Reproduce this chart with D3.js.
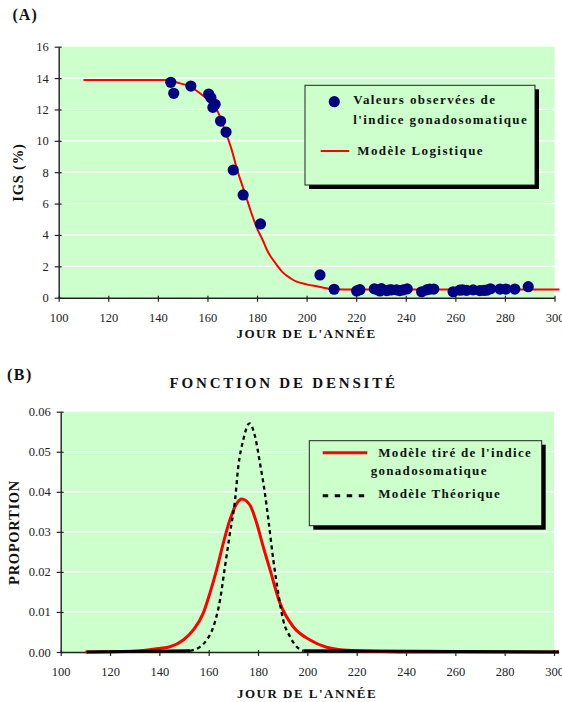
<!DOCTYPE html>
<html>
<head>
<meta charset="utf-8">
<script src="https://cdn.jsdelivr.net/npm/d3@7"></script>
<style>
  html, body { margin: 0; padding: 0; background: #ffffff; }
  svg { display: block; }
  text { font-family: "Liberation Serif", "Times New Roman", serif; }
</style>
</head>
<body>
<svg id="chart" width="562" height="702"></svg>
<script>
// ---- Panel A : gonadosomatic index (IGS) by day of year ----
const obsDays = [145.2, 146.4, 153.3, 160.5, 161.4, 162.2, 163.1, 165.3, 167.5, 170.4, 174.4, 181.4,
  205.4, 211.1, 220.2, 221.5, 227.3, 228.6, 229.6, 230.2, 232.3, 233.5, 234.3, 236.3, 237.6, 239.0, 240.6,
  246.4, 248.4, 249.7, 251.3, 259.1, 261.8, 262.9, 264.5, 267.2, 269.9, 271.5, 272.6, 274.2, 278.0, 280.4,
  284.0, 289.4];
const obsIGS = [13.73, 13.03, 13.49, 12.98, 12.75, 12.13, 12.33, 11.26, 10.56, 8.14, 6.55, 4.70,
  1.45, 0.54, 0.43, 0.51, 0.56, 0.52, 0.43, 0.58, 0.45, 0.50, 0.50, 0.50, 0.45, 0.50, 0.56,
  0.38, 0.50, 0.55, 0.55, 0.38, 0.48, 0.50, 0.47, 0.50, 0.45, 0.47, 0.48, 0.57, 0.55, 0.55,
  0.55, 0.70];

const logiDays = [110, 142, 146, 149, 151, 153, 157, 160, 163, 164.5, 166.5, 168.5, 170, 172, 174, 176,
  178, 180, 182.5, 184, 186, 188, 190.5, 193.5, 196, 200, 205, 209, 215, 302];
const logiIGS = [13.87, 13.87, 13.8, 13.66, 13.58, 13.45, 13.03, 12.64, 12.17, 11.75, 10.9, 10.05, 9.31,
  8.14, 7.18, 6.23, 5.27, 4.42, 3.6, 3.04, 2.51, 2.08, 1.6, 1.24, 1.02, 0.85, 0.70, 0.57, 0.53, 0.53];

// ---- Panel B : density functions ----
const densDays = [110, 125, 132, 140, 144.3, 149.7, 153.8, 157.8, 160.5, 163.2, 165.9, 168.6, 171.4,
  173.4, 176.7, 179.5, 182.1, 184.9, 188.9, 194.3, 201.1, 207.8, 214.6, 225.4, 240, 302];
const densIGS = [0, 0.0001, 0.0003, 0.0009, 0.0013, 0.003, 0.0055, 0.0097, 0.0147, 0.0205, 0.0271, 0.033,
  0.0371, 0.0382, 0.0367, 0.0321, 0.0263, 0.0205, 0.0122, 0.0063, 0.003, 0.0012, 0.0005, 0.0002, 0, 0];

const theoDays = [110.5, 152.4, 156.5, 159.2, 161.9, 164.6, 166.6, 168.6, 170.7, 172, 174, 176.5, 178.8,
  180.8, 182.8, 184.2, 186.2, 188.2, 190.2, 193, 195.7, 198.4, 302];
const theoVals = [0, 0.0003, 0.0013, 0.003, 0.0063, 0.013, 0.0213, 0.0296, 0.038, 0.0463, 0.0529, 0.0571,
  0.0538, 0.0471, 0.0396, 0.033, 0.023, 0.0147, 0.008, 0.0038, 0.0013, 0.0003, 0];

// ---- ticks ----
const xTicks = [100, 120, 140, 160, 180, 200, 220, 240, 260, 280, 300];
const yTicksA = [0, 2, 4, 6, 8, 10, 12, 14, 16];
const yTicksB = [0, 0.01, 0.02, 0.03, 0.04, 0.05, 0.06];

const BG = "#ccffcc";
const NAVY = "#000080";
const RED = "#ff0000";

const svg = d3.select("#chart");

function panelFrame(g, x, y, yTicks, yMinorStep, yFmt, xMinorStep) {
  const [x0, x1] = x.range();
  const [y0, y1] = y.range();
  g.append("rect").attr("x", x0).attr("y", y1).attr("width", x1 - x0).attr("height", y0 - y1).attr("fill", BG);
  // white horizontal gridlines
  g.append("g").selectAll("line")
    .data(yTicks.filter(t => t > y.domain()[0] && t < y.domain()[1]))
    .join("line")
    .attr("x1", x0).attr("x2", x1)
    .attr("y1", d => y(d)).attr("y2", d => y(d))
    .attr("stroke", "#ffffff").attr("stroke-width", 1.2);

  // x axis: minor ticks inside, major ticks crossing
  const xMinor = d3.range(x.domain()[0], x.domain()[1] + 0.001, xMinorStep);
  const gx = g.append("g").attr("transform", `translate(0,${y0})`);
  gx.call(d3.axisBottom(x).tickValues(xMinor).tickSize(-3).tickFormat(""));
  gx.call(d3.axisBottom(x).tickValues(xTicks).tickSizeInner(4).tickSizeOuter(0).tickPadding(11).tickFormat(d3.format("d")));
  gx.selectAll(".tick line").filter(function () { return +d3.select(this).attr("y2") > 0; }).attr("y1", -2);
  gx.selectAll("path.domain").attr("stroke", "#222").attr("stroke-width", 1.4);
  gx.selectAll(".tick line").attr("stroke", "#222").attr("stroke-width", 1.2);
  gx.selectAll("text").attr("font-size", 12.5).attr("fill", "#222").attr("font-family", "Liberation Serif, serif");

  // y axis
  const yMinor = d3.range(y.domain()[0], y.domain()[1] + yMinorStep / 2, yMinorStep);
  const gy = g.append("g").attr("transform", `translate(${x0},0)`);
  gy.call(d3.axisLeft(y).tickValues(yMinor).tickSize(-3).tickFormat(""));
  gy.call(d3.axisLeft(y).tickValues(yTicks).tickSizeInner(4).tickSizeOuter(0).tickPadding(6).tickFormat(yFmt));
  gy.selectAll(".tick line").filter(function () { return +d3.select(this).attr("x2") < 0; }).attr("x1", 3);
  gy.selectAll("path.domain").attr("stroke", "#222").attr("stroke-width", 1.4);
  gy.selectAll(".tick line").attr("stroke", "#222").attr("stroke-width", 1.2);
  gy.selectAll("text").attr("font-size", 12.5).attr("fill", "#222").attr("font-family", "Liberation Serif, serif");
}

function boldText(g, str, x, y, size, spacing, anchor, rotate) {
  const t = g.append("text")
    .attr("x", x).attr("y", y)
    .attr("font-size", size).attr("font-weight", "bold")
    .attr("letter-spacing", spacing)
    .attr("text-anchor", anchor || "start")
    .attr("fill", "#111")
    .text(str);
  if (rotate) t.attr("transform", `rotate(-90,${x},${y})`);
  return t;
}

// ================= Panel A =================
const gA = svg.append("g");
const xA = d3.scaleLinear().domain([100, 300]).range([58.7, 554.5]);
const yA = d3.scaleLinear().domain([0, 16]).range([297.7, 46.7]);
panelFrame(gA, xA, yA, yTicksA, 1, d3.format("d"), 4);

const logiLine = d3.line().x((d, i) => xA(logiDays[i])).y(d => yA(d)).curve(d3.curveMonotoneX);
gA.append("path").attr("d", logiLine(logiIGS)).attr("fill", "none").attr("stroke", RED).attr("stroke-width", 2);

gA.append("g").selectAll("circle").data(obsIGS).join("circle")
  .attr("cx", (d, i) => xA(obsDays[i])).attr("cy", d => yA(d)).attr("r", 5.6).attr("fill", NAVY);

boldText(gA, "(A)", 12.5, 20, 16, 1);
boldText(gA, "IGS (%)", 23, 172.5, 14.5, 0.8, "middle", true);
boldText(gA, "JOUR DE L'ANNÉE", 306.5, 338, 13, 1.5, "middle");

// legend A
const legA = gA.append("g");
legA.append("rect").attr("x", 309).attr("y", 89.3).attr("width", 230).attr("height", 99.7).attr("fill", "#000");
legA.append("rect").attr("x", 305).attr("y", 85.3).attr("width", 230).attr("height", 99.7)
  .attr("fill", BG).attr("stroke", "#222").attr("stroke-width", 1);
legA.append("circle").attr("cx", 334.3).attr("cy", 101.7).attr("r", 5.6).attr("fill", NAVY);
boldText(legA, "Valeurs observées de", 353.3, 104.3, 13, 1.4);
boldText(legA, "l'indice gonadosomatique", 353.3, 124.3, 13, 1.4);
legA.append("line").attr("x1", 320.7).attr("x2", 349.3).attr("y1", 151).attr("y2", 151).attr("stroke", RED).attr("stroke-width", 2);
boldText(legA, "Modèle Logistique", 357.3, 154.5, 13, 1.4);

// ================= Panel B =================
const gB = svg.append("g");
const xB = d3.scaleLinear().domain([100, 300]).range([60.7, 554]);
const yB = d3.scaleLinear().domain([0, 0.06]).range([652, 411.7]);
panelFrame(gB, xB, yB, yTicksB, 0.002, d3.format(".2f"), 4);

const densLine = d3.line().x((d, i) => xB(densDays[i])).y(d => yB(d)).curve(d3.curveMonotoneX);
gB.append("path").attr("d", densLine(densIGS)).attr("fill", "none").attr("stroke", RED).attr("stroke-width", 3);

// theoretical model: flat zero tails render solid, the bell is dotted
const theoPts = theoVals.map((v, i) => [xB(theoDays[i]), yB(v)]);
const isTail = i => theoVals[i] < 0.0005 && theoVals[i + 1] < 0.0005;
const tails = [], body = [];
for (let i = 0; i < theoPts.length - 1; i++) {
  (isTail(i) ? tails : body).push(i);
}
tails.forEach(i => {
  gB.append("line").attr("x1", theoPts[i][0]).attr("y1", theoPts[i][1])
    .attr("x2", theoPts[i + 1][0]).attr("y2", theoPts[i + 1][1])
    .attr("stroke", "#000").attr("stroke-width", 3);
});
const bodyStart = body[0], bodyEnd = body[body.length - 1] + 1;
const theoLine = d3.line().curve(d3.curveMonotoneX);
gB.append("path").attr("d", theoLine(theoPts.slice(bodyStart, bodyEnd + 1)))
  .attr("fill", "none").attr("stroke", "#000").attr("stroke-width", 2.3).attr("stroke-dasharray", "4,3.5");

boldText(gB, "(B)", 7, 380, 16, 1.5);
boldText(gB, "FONCTION DE DENSITÉ", 283.7, 388.3, 15, 2.8, "middle");
boldText(gB, "PROPORTION", 18.5, 532.5, 14.5, 0.7, "middle", true);
boldText(gB, "JOUR DE L'ANNÉE", 307, 698, 13, 1.5, "middle");

// legend B
const legB = gB.append("g");
legB.append("rect").attr("x", 313.3).attr("y", 444.7).attr("width", 232.4).attr("height", 85).attr("fill", "#000");
legB.append("rect").attr("x", 309.3).attr("y", 440.7).attr("width", 232.4).attr("height", 85)
  .attr("fill", BG).attr("stroke", "#222").attr("stroke-width", 1);
legB.append("line").attr("x1", 322.7).attr("x2", 367.3).attr("y1", 452.7).attr("y2", 452.7).attr("stroke", RED).attr("stroke-width", 3);
boldText(legB, "Modèle tiré de l'indice", 378.3, 456.7, 13, 1.3);
boldText(legB, "gonadosomatique", 370.7, 475, 13, 1.3);
legB.append("line").attr("x1", 322.7).attr("x2", 368).attr("y1", 495.7).attr("y2", 495.7)
  .attr("stroke", "#000").attr("stroke-width", 3).attr("stroke-dasharray", "5.5,6.5");
boldText(legB, "Modèle Théorique", 378.3, 498.3, 13, 1.3);
</script>
</body>
</html>
